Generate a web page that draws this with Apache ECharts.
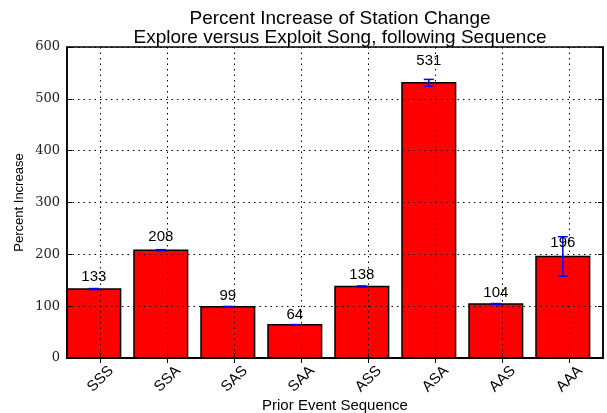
<!DOCTYPE html>
<html>
<head>
<meta charset="utf-8">
<script src="https://cdn.jsdelivr.net/npm/echarts/dist/echarts.min.js"></script>
<style>
html,body{margin:0;padding:0;background:#fff;}
#chart{width:607px;height:413px;}
</style>
</head>
<body>
<div id="chart"></div>
<script>
const categories = ['SSS', 'SSA', 'SAS', 'SAA', 'ASS', 'ASA', 'AAS', 'AAA'];
const values = [133, 208, 99, 64, 138, 531, 104, 196];
const errors = [1, 1, 0.5, 0.5, 1, 6.5, 1, 38];
const yMin = 0, yMax = 600, yStep = 100;

const chart = echarts.init(document.getElementById('chart'), null, {renderer: 'canvas'});
const dotted = {color: '#000', width: 1, type: [1.5, 4]};
const BAR_FRAC = 0.8;

function barGeom(api, i, v) {
  const band = api.size([1, 0])[0];
  const c = api.coord([i, v]);
  const x0 = c[0] - band / 2;
  return {band, x0, xc: x0 + band * BAR_FRAC / 2, y: c[1]};
}

const option = {
  animation: false,
  backgroundColor: '#fff',
  title: {
    text: 'Percent Increase of Station Change\nExplore versus Exploit Song, following Sequence',
    left: 335, top: 4, textAlign: 'center',
    textStyle: {fontFamily: 'Liberation Sans', fontSize: 19, fontWeight: 'normal', color: '#000', lineHeight: 19}
  },
  grid: {left: 67, right: 4, top: 47, bottom: 55, show: true, borderColor: '#000', borderWidth: 1.5,
         backgroundColor: 'transparent', containLabel: false, outerBoundsMode: 'none'},
  xAxis: [{
    type: 'category', data: categories, position: 'bottom', z: 10,
    axisLine: {show: true, lineStyle: {color: '#000', width: 1.5}},
    axisTick: {show: true, inside: true, alignWithLabel: true, length: 5, lineStyle: {color: '#000'}},
    axisLabel: {rotate: 45, align: 'center', verticalAlign: 'middle', margin: 21, fontFamily: 'Liberation Sans', fontSize: 15, color: '#000', interval: 0},
    splitLine: {show: true, alignWithLabel: true, lineStyle: dotted},
    name: 'Prior Event Sequence', nameLocation: 'middle', nameGap: 40, nameMoveOverlap: false,
    nameTextStyle: {fontFamily: 'Liberation Sans', fontSize: 15, color: '#000'}
  }, {
    type: 'category', data: categories, position: 'top', z: 10,
    axisLine: {show: true, lineStyle: {color: '#000', width: 1.5}},
    axisTick: {show: true, inside: true, alignWithLabel: true, length: 5, lineStyle: {color: '#000'}},
    axisLabel: {show: false}, splitLine: {show: false}
  }],
  yAxis: [{
    type: 'value', min: yMin, max: yMax, interval: yStep, position: 'left', z: 10,
    axisLine: {show: true, lineStyle: {color: '#000', width: 1.5}},
    axisTick: {show: true, inside: true, length: 5, lineStyle: {color: '#000'}},
    axisLabel: {fontFamily: 'DejaVu Serif', fontSize: 13, color: '#222', margin: 7},
    splitLine: {show: true, lineStyle: dotted},
    name: 'Percent Increase', nameLocation: 'middle', nameGap: 41, nameRotate: 90, nameMoveOverlap: false,
    nameTextStyle: {fontFamily: 'Liberation Sans', fontSize: 13, color: '#000'}
  }, {
    type: 'value', min: yMin, max: yMax, interval: yStep, position: 'right', z: 10,
    axisLine: {show: true, lineStyle: {color: '#000', width: 1.5}},
    axisTick: {show: true, inside: true, length: 5, lineStyle: {color: '#000'}},
    axisLabel: {show: false}, splitLine: {show: false}
  }],
  series: [{
    type: 'custom', z: 2,
    data: values.map((v, i) => [i, v]),
    encode: {x: 0, y: 1},
    renderItem: function (params, api) {
      const i = api.value(0), v = api.value(1);
      const top = barGeom(api, i, v);
      const base = api.coord([i, 0]);
      return {
        type: 'rect',
        shape: {x: top.x0, y: top.y, width: top.band * BAR_FRAC, height: base[1] - top.y},
        style: {fill: '#ff0000', stroke: '#000', lineWidth: 1.5}
      };
    }
  }, {
    type: 'custom', z: 12,
    data: values.map((v, i) => [i, v, errors[i]]),
    encode: {x: 0, y: 1},
    renderItem: function (params, api) {
      const i = api.value(0), v = api.value(1), e = api.value(2);
      const hi = barGeom(api, i, v + e), lo = barGeom(api, i, v - e);
      const xc = hi.xc, cw = 5;
      const st = {stroke: '#0000ff', lineWidth: 1.5};
      return {
        type: 'group',
        children: [
          {type: 'line', shape: {x1: xc, y1: hi.y, x2: xc, y2: lo.y}, style: st},
          {type: 'line', shape: {x1: xc - cw, y1: hi.y, x2: xc + cw, y2: hi.y}, style: st},
          {type: 'line', shape: {x1: xc - cw, y1: lo.y, x2: xc + cw, y2: lo.y}, style: st}
        ]
      };
    }
  }, {
    type: 'custom', z: 12,
    data: values.map((v, i) => [i, v]),
    encode: {x: 0, y: 1},
    renderItem: function (params, api) {
      const i = api.value(0), v = api.value(1);
      const g = barGeom(api, i, v * 1.05 + 16);
      return {
        type: 'text',
        style: {x: g.xc, y: g.y, text: String(v), fill: '#000', font: '15px "Liberation Sans"', align: 'center', verticalAlign: 'middle'}
      };
    }
  }]
};
chart.setOption(option);
</script>
</body>
</html>
